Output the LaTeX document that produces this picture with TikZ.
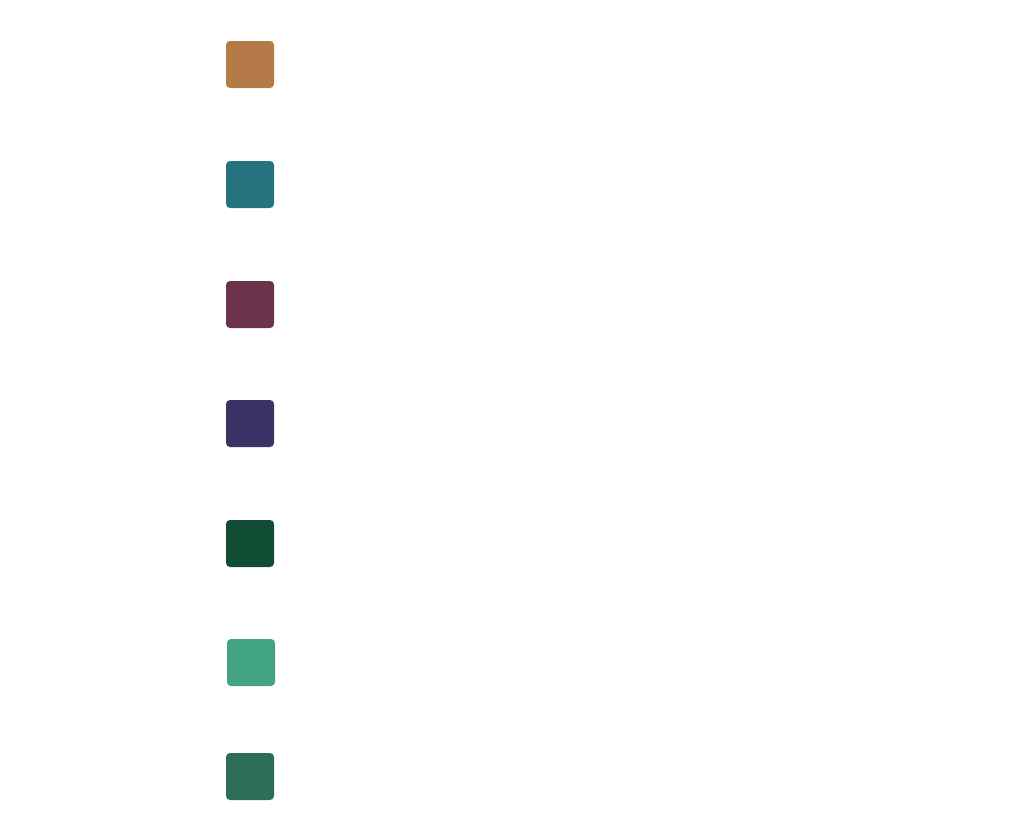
\documentclass[tikz,border=0pt]{standalone}
\definecolor{c1}{HTML}{B47A48}
\definecolor{c2}{HTML}{24737F}
\definecolor{c3}{HTML}{6B334C}
\definecolor{c4}{HTML}{3B3366}
\definecolor{c5}{HTML}{114D34}
\definecolor{c6}{HTML}{42A383}
\definecolor{c7}{HTML}{2C6E5A}
\begin{document}
\begin{tikzpicture}[x=1pt,y=-1pt,sw/.style={rounded corners=4pt}]
\useasboundingbox (0,0) rectangle (1020,825);
\fill[c1,sw] (226,41) rectangle (274,88);
\fill[c2,sw] (226,161) rectangle (274,208);
\fill[c3,sw] (226,281) rectangle (274,328);
\fill[c4,sw] (226,400) rectangle (274,447);
\fill[c5,sw] (226,520) rectangle (274,567);
\fill[c6,sw] (227,639) rectangle (275,686);
\fill[c7,sw] (226,753) rectangle (274,800);
\end{tikzpicture}
\end{document}
